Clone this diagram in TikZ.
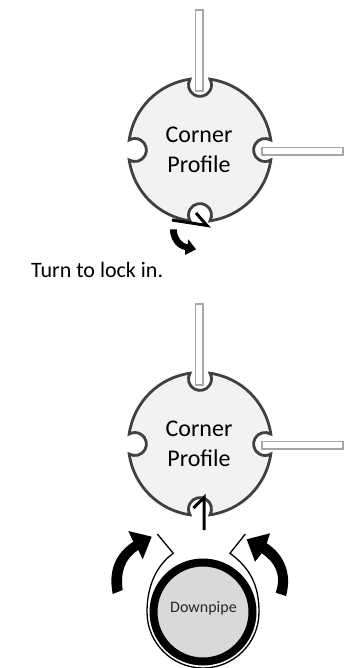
\documentclass[tikz,border=0pt]{standalone}
\usepackage{fontspec}
\setmainfont{Carlito}
\definecolor{profilefill}{HTML}{F2F2F2}
\definecolor{profileline}{HTML}{404040}
\definecolor{rodline}{HTML}{A6A6A6}
\definecolor{pipefill}{HTML}{D9D9D9}
\tikzset{
  profile/.style={draw=profileline,fill=profilefill,line width=2.8pt},
  rod/.style={draw=rodline,fill=white,line width=1.8pt},
  lockline/.style={line width=3pt,line join=miter},
  blockarrow/.style={fill=black,draw=none},
  guide/.style={line width=1.3pt},
  cornertext/.style={inner sep=0pt,font=\fontsize{24}{28}\selectfont},
}
\begin{document}
\begin{tikzpicture}[x=1pt,y=-1pt]
  \useasboundingbox (0,0) rectangle (352,668);
  % both profiles are the same
  \foreach \Y/\N in {150/a,444/b}
  {
    \begin{scope}[shift={(200,\Y)},y=1pt]
      \draw[profile] (82:71.5) arc(82:8:71.5)
        arc(60:300:11.5) arc(-8:-82:71.5)
        arc(-30:210:11.5) arc(-98:-172:71.5)
        arc(-120:120:11.5) arc(172:98:71.5)
        arc(150:390:11.5) -- cycle;
    \end{scope}
    \node[cornertext] (corner\N) at (199,\Y-15) {Corner};
    \node[cornertext] (profile\N) at (199,\Y+14) {Profile};
    \draw[rod] (195.5,\Y-140) rectangle (203.3,\Y-59);
    \draw[rod] (262,\Y-2.5) rectangle (343,\Y+5);
  }
  % lock in
  \draw[lockline] (172,220) -- (207,225.5) -- (196,213);
  \fill[blockarrow] (170,229.3) .. controls (170,238) and (175,248) .. (185,250)
    -- (185,255) -- (196,249.3) -- (188.3,239.3) -- (187.5,244.5)
    .. controls (182,243) and (177,238) .. (176.7,229.3) -- cycle;
  \node[cornertext,anchor=base west,font=\fontsize{22}{26}\selectfont] (turn) at (31,277) {Turn to lock in.};
  % push on
  \draw[lockline] (193.5,508) -- (204,497.5) -- (204,530);
  \draw[guide] (157.3,534) -- (173.3,553.3) .. controls (157,565) and (147,585) .. (147,612)
    arc(180:0:56) .. controls (259,585) and (250,568) .. (230,553.3) -- (245.3,534);
  \fill[blockarrow] (112.7,594) .. controls (108,570) and (116,553) .. (133.3,541.7)
    -- (128.3,531) -- (151.7,536.7) -- (142.7,559.3) -- (138.3,550)
    .. controls (125,558) and (120,573) .. (122.7,590) -- cycle;
  \fill[blockarrow] (286,596) .. controls (292,575) and (285,555) .. (266.7,543.3)
    -- (270,533.3) -- (246.7,539.3) -- (255,561.7) -- (261.7,553.3)
    .. controls (275,562) and (282,575) .. (275.7,592.7) -- cycle;
  \draw[fill=pipefill,line width=8pt] (203,612) circle (49.5);
  \node[cornertext,font=\fontsize{16}{18}\selectfont,text=black!85] (downpipe) at (203.5,608) {Downpipe};
\end{tikzpicture}
\end{document}
